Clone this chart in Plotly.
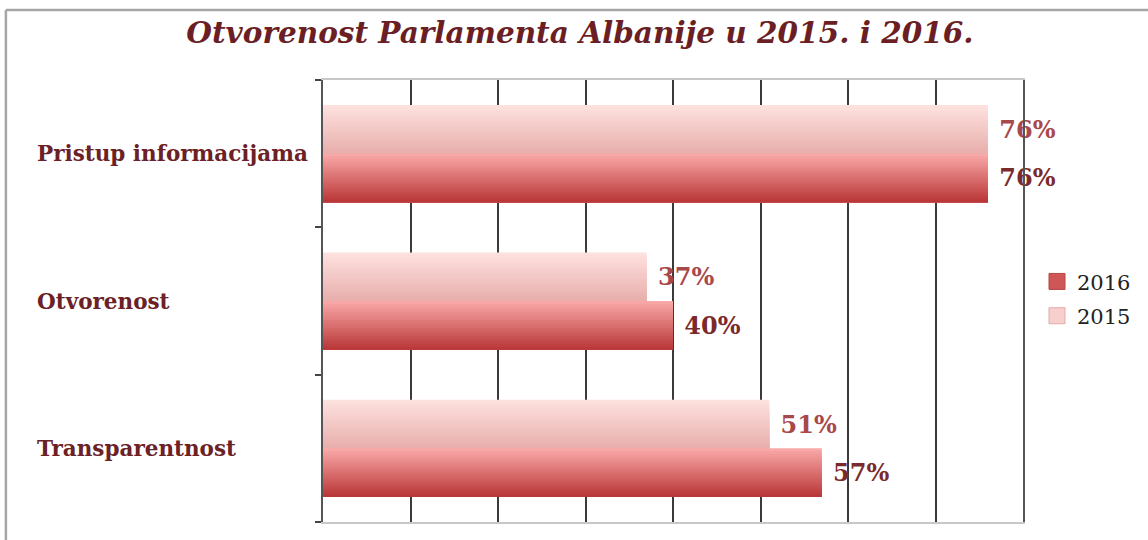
import plotly.graph_objects as go

# ---- data ----
categories = ["Pristup informacijama", "Otvorenost", "Transparentnost"]
values_2015 = [76, 37, 51]
values_2016 = [76, 40, 57]
series_names = ["2016", "2015"]
title_text = "Otvorenost Parlamenta Albanije u 2015. i 2016."

# ---- style ----
N = 18
BAR_W = 0.33
grad_2015 = ((0xFD, 0xE1, 0xDE), (0xE8, 0xAF, 0xAD))  # top, bottom
grad_2016 = ((0xF9, 0xA7, 0xA7), (0xBA, 0x38, 0x38))
label_font = "DejaVu Serif"


def lerp(c1, c2, t):
    return "rgb(%d,%d,%d)" % tuple(round(a + (b - a) * t) for a, b in zip(c1, c2))


fig = go.Figure()


def add_gradient_bar(vals, name, base_offset, grad):
    top, bot = grad
    for k in range(N):
        t = k / (N - 1)
        w = BAR_W * (1 - k / N)
        fig.add_trace(go.Bar(
            y=categories, x=vals, orientation="h",
            offset=base_offset, width=w,
            marker=dict(color=lerp(top, bot, t), line=dict(width=0)),
            name=name, legendgroup=name,
            showlegend=False, hoverinfo="x+name",
        ))


add_gradient_bar(values_2015, "2015", 0.0, grad_2015)
add_gradient_bar(values_2016, "2016", -BAR_W, grad_2016)

# legend entries (square swatches)
for name, col, border, rank in (("2016", "#cf5656", "#b84444", 1), ("2015", "#f7cfcc", "#e3aaa8", 2)):
    fig.add_trace(go.Scatter(
        x=[None], y=[None], mode="markers", name=name, legendgroup=name,
        legendrank=rank,
        marker=dict(symbol="square", size=17, color=col, line=dict(color=border, width=1)),
    ))

# value labels
for vals, off, col in ((values_2015, 0.0, "#a8484a"), (values_2016, -BAR_W, "#7a2a2c")):
    fig.add_trace(go.Bar(
        y=categories, x=vals, orientation="h", offset=off, width=BAR_W,
        marker=dict(color="rgba(0,0,0,0)", line=dict(width=0)),
        text=[f"\u00a0{v}%" for v in vals], textposition="outside",
        textfont=dict(family=label_font, size=24, color=col, weight="bold"),
        constraintext="none", cliponaxis=False, showlegend=False, hoverinfo="skip",
    ))

# category labels, left-aligned
for c in categories:
    fig.add_annotation(
        x=-0.412, xref="paper", y=c, yref="y", text=c, showarrow=False,
        xanchor="left", yanchor="middle",
        font=dict(family=label_font, size=21.5, color="#6b2126", weight="bold"),
    )

# outer frame (top and left)
fig.add_shape(type="line", xref="paper", yref="paper", x0=-0.453, x1=1.2,
              y0=1.1585, y1=1.1585, line=dict(color="#a6a6a6", width=2.5))
fig.add_shape(type="line", xref="paper", yref="paper", x0=-0.453, x1=-0.453,
              y0=1.1585, y1=-0.1, line=dict(color="#a6a6a6", width=2.5))

fig.update_layout(
    width=1148, height=540,
    margin=dict(l=323, r=125, t=80, b=18, autoexpand=False),
    paper_bgcolor="white", plot_bgcolor="white",
    barmode="overlay",
    title=dict(text=title_text, x=0.367, xref="paper", xanchor="center",
               y=0.939, yanchor="middle",
               font=dict(family=label_font, size=29.5, color="#6b1f24",
                         weight="bold", style="italic")),
    xaxis=dict(range=[0, 80], dtick=10, showgrid=True, gridcolor="#3a3a3a",
               gridwidth=1.5, showticklabels=False, ticks="", zeroline=False,
               showline=True, linecolor="#c8c8c8", linewidth=1.5, mirror=True),
    yaxis=dict(categoryorder="array", categoryarray=categories[::-1],
               range=[-0.5, 2.5], showticklabels=False, tickson="boundaries",
               ticks="outside", ticklen=6, tickwidth=2, tickcolor="#444",
               showline=True, linecolor="#555", linewidth=2, mirror=True,
               showgrid=False, zeroline=False),
    legend=dict(x=1.02, xanchor="left", y=0.505, yanchor="middle",
                font=dict(family=label_font, size=21, color="#222"),
                itemwidth=30, tracegroupgap=4, bgcolor="rgba(0,0,0,0)"),
    showlegend=True,
)

fig.write_html("out.html", config={"displayModeBar": False},
               post_script="document.body.style.margin='0';")
